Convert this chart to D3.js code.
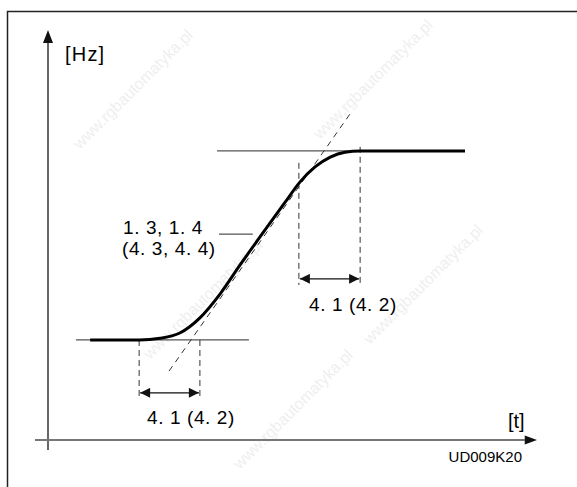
<!DOCTYPE html>
<html>
<head>
<meta charset="utf-8">
<script src="https://cdn.jsdelivr.net/npm/d3@7/dist/d3.min.js"></script>
<style>
  html, body { margin: 0; padding: 0; background: #fff; }
  svg { display: block; }
  text { font-family: "Liberation Sans", Arial, Helvetica, sans-serif; fill: #000; }
</style>
</head>
<body>
<script>
// S-curve acceleration ramp: frequency [Hz] over time [t]
const curveTime = [8.6, 18.6, 22.9, 26.9, 31.0, 35.1, 39.2, 44.7, 48.4, 51.4, 54.5, 57.6, 60.6, 63.7, 85.1];
const curveFreq = [24.4, 24.4, 24.8, 26.1, 29.8, 35.6, 42.7, 51.9, 58.0, 62.9, 66.6, 69.0, 70.2, 70.5, 70.5];

// reference levels (start and target frequency)
const lowLevel = { f: 24.4, t0: 5.7, t1: 41.0 };
const highLevel = { f: 70.5, t0: 34.5, t1: 63.7 };

// linear ramp (tangent through the inflection point)
const rampTime = [24.7, 61.8];
const rampFreq = [16.8, 79.8];

// S-shape time spans (start and end of the rounding)
const spanLower = { t: [18.6, 31.0], fTop: [24.4, 24.4], fBottom: 10.2, fArrow: 11.5 };
const spanUpper = { t: [51.2, 63.7], fTop: [67.6, 71.5], fBottom: 37.8, fArrow: 39.3 };

// texts
const axisLabelY = "[Hz]";
const axisLabelX = "[t]";
const paramLabel = ["1. 3, 1. 4", "(4. 3, 4. 4)"];
const spanLabel = "4. 1 (4. 2)";
const figureCode = "UD009K20";
const watermark = "www.rgbautomatyka.pl";

const W = 577, H = 487;
const x = d3.scaleLinear().domain([0, 100]).range([48, 538]);
const y = d3.scaleLinear().domain([0, 100]).range([440, 30]);

const svg = d3.select("body").append("svg").attr("width", W).attr("height", H);

// faint background watermarks
const wm = svg.append("g");
[[80, 150], [320, 140], [150, 360], [370, 345], [240, 470]].forEach(([wx, wy]) => {
  wm.append("text")
    .attr("transform", `translate(${wx},${wy}) rotate(-45)`)
    .attr("font-size", 16)
    .style("fill", "#efefef")
    .text(watermark);
});

// frame
svg.append("path").attr("d", "M7.5,487 V11.5 H577").attr("fill", "none")
  .attr("stroke", "#222").attr("stroke-width", 1.5);

// axes with arrowheads
svg.append("line").attr("x1", x(0)).attr("x2", x(0)).attr("y1", 450).attr("y2", y(96.8))
  .attr("stroke", "#333").attr("stroke-width", 1.5);
svg.append("path")
  .attr("d", `M${x(0)},${y(100)} L${x(0) - 5},${y(96.8)} L${x(0) + 5},${y(96.8)} Z`)
  .attr("fill", "#111");
svg.append("line").attr("x1", 35).attr("x2", x(97.3)).attr("y1", y(0)).attr("y2", y(0))
  .attr("stroke", "#777").attr("stroke-width", 1.8);
svg.append("path")
  .attr("d", `M${x(99.8)},${y(0)} L${x(97.3)},${y(0) - 4.5} L${x(97.3)},${y(0) + 4.5} Z`)
  .attr("fill", "#111");

// level lines
[lowLevel, highLevel].forEach(l => {
  svg.append("line").attr("x1", x(l.t0)).attr("x2", x(l.t1)).attr("y1", y(l.f)).attr("y2", y(l.f))
    .attr("stroke", "#555").attr("stroke-width", 1.2);
});

// tangent ramp
svg.append("line")
  .attr("x1", x(rampTime[0])).attr("y1", y(rampFreq[0]))
  .attr("x2", x(rampTime[1])).attr("y2", y(rampFreq[1]))
  .attr("stroke", "#333").attr("stroke-width", 1).attr("stroke-dasharray", "6,5");

// span markers
const defs = svg.append("defs");
defs.append("marker").attr("id", "ah").attr("viewBox", "0 0 10 10")
  .attr("refX", 10).attr("refY", 5).attr("markerWidth", 13).attr("markerHeight", 10)
  .attr("markerUnits", "userSpaceOnUse").attr("orient", "auto-start-reverse")
  .append("path").attr("d", "M0,0 L10,5 L0,10 Z").attr("fill", "#111");

[spanLower, spanUpper].forEach(s => {
  s.t.forEach((t, i) => {
    svg.append("line").attr("x1", x(t)).attr("x2", x(t)).attr("y1", y(s.fTop[i])).attr("y2", y(s.fBottom))
      .attr("stroke", "#333").attr("stroke-width", 1).attr("stroke-dasharray", "6,4");
  });
  svg.append("line")
    .attr("x1", x(s.t[0]) + 1).attr("x2", x(s.t[1]) - 1).attr("y1", y(s.fArrow)).attr("y2", y(s.fArrow))
    .attr("stroke", "#111").attr("stroke-width", 1.3)
    .attr("marker-start", "url(#ah)").attr("marker-end", "url(#ah)");
});

// the S-curve
const pts = curveTime.map((t, i) => [t, curveFreq[i]]);
svg.append("path").datum(pts)
  .attr("d", d3.line().x(d => x(d[0])).y(d => y(d[1])).curve(d3.curveMonotoneX))
  .attr("fill", "none").attr("stroke", "#000").attr("stroke-width", 3);

// parameter leader line
svg.append("line").attr("x1", x(34.9)).attr("x2", x(41.8)).attr("y1", y(50.2)).attr("y2", y(50.2))
  .attr("stroke", "#555").attr("stroke-width", 1.2);

// labels
svg.append("text").attr("x", 65).attr("y", 61).attr("font-size", 20).attr("letter-spacing", 1.2).text(axisLabelY);
svg.append("text").attr("x", 508).attr("y", 428).attr("font-size", 20).text(axisLabelX);
svg.append("text").attr("x", 522).attr("y", 462).attr("font-size", 15).attr("text-anchor", "end").text(figureCode);

svg.append("text").attr("x", 123).attr("y", 234).attr("font-size", 19).attr("letter-spacing", 0.6).text(paramLabel[0]);
svg.append("text").attr("x", 122).attr("y", 255).attr("font-size", 19).attr("letter-spacing", 0.6).text(paramLabel[1]);

svg.append("text").attr("x", 147).attr("y", 424).attr("font-size", 19).attr("letter-spacing", 0.6).text(spanLabel);
svg.append("text").attr("x", 309).attr("y", 311).attr("font-size", 19).attr("letter-spacing", 0.6).text(spanLabel);
</script>
</body>
</html>
